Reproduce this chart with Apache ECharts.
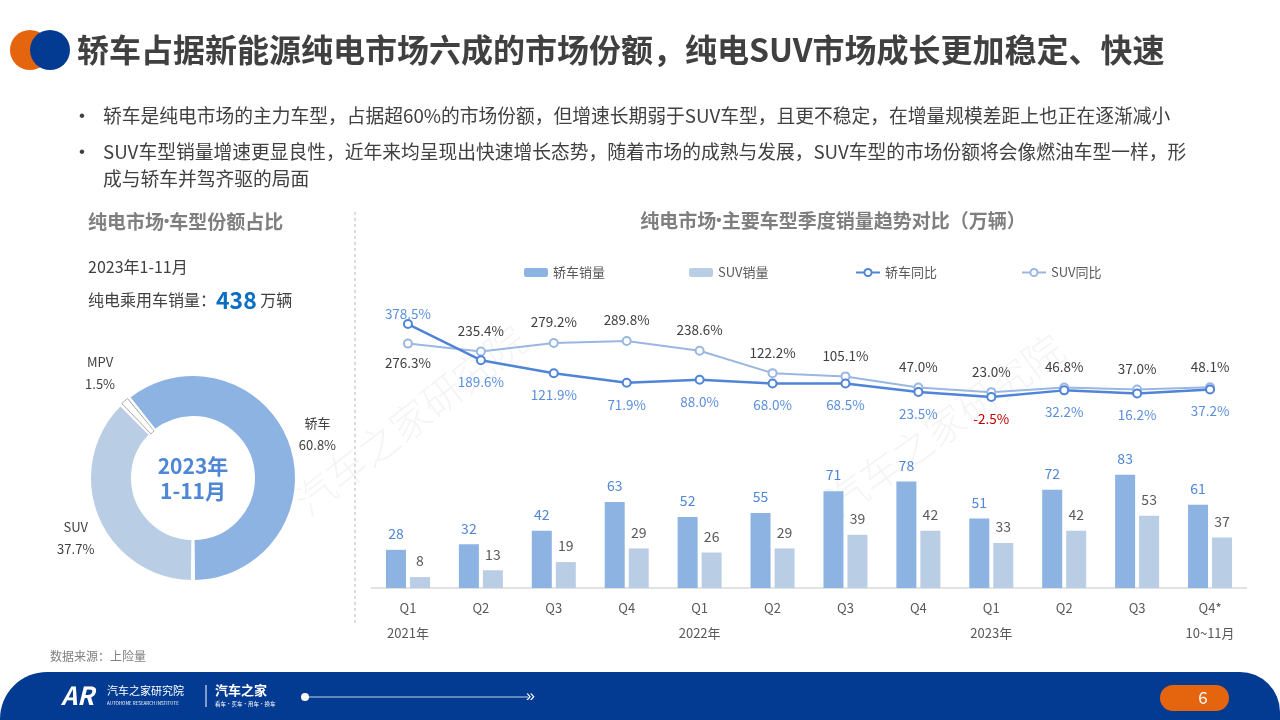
<!DOCTYPE html>
<html><head><meta charset="utf-8">
<script src="https://cdn.jsdelivr.net/npm/echarts@6/dist/echarts.min.js"></script>
<style>html,body{margin:0;padding:0;background:#fff}#c{width:1280px;height:720px}</style>
</head><body><div id="c"></div>
<script>
const quarters = ['Q1','Q2','Q3','Q4','Q1','Q2','Q3','Q4','Q1','Q2','Q3','Q4*'];
const periods = ['2021年','','','','2022年','','','','2023年','','','10~11月'];
const sedanSales = [28,32,42,63,52,55,71,78,51,72,83,61];
const suvSales = [8,13,19,29,26,29,39,42,33,42,53,37];
const sedanYoY = [378.5,189.6,121.9,71.9,88.0,68.0,68.5,23.5,-2.5,32.2,16.2,37.2];
const suvYoY = [276.3,235.4,279.2,289.8,238.6,122.2,105.1,47.0,23.0,46.8,37.0,48.1];
const shareNames = ['SUV','MPV','轿车'];
const shareValues = [37.7,1.5,60.8];
const totalSales = 438;

const FONT = '"Noto Sans CJK SC", "Noto Sans", sans-serif';
const LFONT = '"Liberation Sans", "DejaVu Sans", sans-serif';
const C_SEDAN = '#8db3e2', C_SUV = '#b9cde5', C_SEDAN_LINE = '#4f84d6', C_SUV_LINE = '#9ab7e2';

const PIE_CX = 193, PIE_CY = 478, PIE_START = -90, PIE_LABEL_R = 132;
const PIE_LABEL_NUDGE = {'SUV': [5, 10], 'MPV': [0, 0], '轿车': [0, 0]};

const chart = echarts.init(document.getElementById('c'));

const gLeft = 371.5, gRight = 33.5;

const sedanLineData = sedanYoY.map((v, i) => {
  const d = {value: v};
  if (i === 0) d.label = {position: 'top', distance: -2};
  if (v < 0) d.label = {color: '#c00000'};
  return d;
});
const suvLineData = suvYoY.map((v, i) => {
  const d = {value: v};
  if (i === 0) d.label = {position: 'bottom', distance: 8};
  return d;
});
const shareColors = {'SUV': C_SUV, 'MPV': '#ffffff', '轿车': C_SEDAN};
const pieData = shareNames.map((n, i) => ({
  name: n, value: shareValues[i],
  itemStyle: n === 'MPV' ? {color: '#fff', borderColor: '#a6a6a6', borderWidth: 1} : {color: shareColors[n], borderColor: '#fff', borderWidth: 2}
}));
// mid-angle of each slice (clockwise from 12 o'clock), from the data
const shareTotal = shareValues.reduce((a, b) => a + b, 0);
const shareMid = [];
(function () { let cum = 0; shareValues.forEach(v => { shareMid.push((90 - PIE_START) + (cum + v / 2) / shareTotal * 360); cum += v; }); })();

const bullet1 = '轿车是纯电市场的主力车型，占据超60%的市场份额，但增速长期弱于SUV车型，且更不稳定，在增量规模差距上也正在逐渐减小';
const bullet2a = 'SUV车型销量增速更显良性，近年来均呈现出快速增长态势，随着市场的成熟与发展，SUV车型的市场份额将会像燃油车型一样，形';
const bullet2b = '成与轿车并驾齐驱的局面';

const txt = (x, y, text, o) => ({type: 'text', x, y, style: Object.assign({text, font: '14px ' + FONT, fill: '#404040', textVerticalAlign: 'middle'}, o || {})});
const dotTitle = (x, y, a, b, align) => ({type: 'text', x, y, style: {
  text: '{t|' + a + '}{d|•}{t|' + b + '}', textVerticalAlign: 'middle', textAlign: align || 'left',
  rich: {t: {font: 'bold 19px ' + FONT, fill: '#7f7f7f'}, d: {font: 'bold 15px ' + LFONT, fill: '#7f7f7f'}}
}});

const option = {
  animation: false,
  textStyle: {fontFamily: FONT},
  graphic: [
    // watermarks
    {type: 'text', x: 410, y: 420, rotation: 0.66, z: -10, style: {text: '汽车之家研究院', font: '300 40px ' + FONT, fill: 'rgba(0,0,0,0.045)', textAlign: 'center', textVerticalAlign: 'middle'}},
    {type: 'text', x: 945, y: 425, rotation: 0.62, z: -10, style: {text: '汽车之家研究院', font: '300 40px ' + FONT, fill: 'rgba(0,0,0,0.045)', textAlign: 'center', textVerticalAlign: 'middle'}},
    // header logo
    {type: 'circle', shape: {cx: 30, cy: 50, r: 20}, style: {fill: '#e5650e'}},
    {type: 'circle', shape: {cx: 50, cy: 50, r: 20}, style: {fill: '#033b93'}},
    txt(77, 50, '轿车占据新能源纯电市场六成的市场份额，纯电SUV市场成长更加稳定、快速', {font: 'bold 32px ' + FONT, fill: '#404040'}),
    // bullets
    txt(79, 116, '•', {font: '17px ' + LFONT}),
    txt(103, 116, bullet1, {font: '18.75px ' + FONT}),
    txt(79, 152, '•', {font: '17px ' + LFONT}),
    txt(103, 152, bullet2a, {font: '18.75px ' + FONT}),
    txt(103, 179, bullet2b, {font: '18.75px ' + FONT}),
    // left panel
    dotTitle(88, 222, '纯电市场', '车型份额占比'),
    txt(88, 267, '2023年1-11月', {font: '16px ' + FONT}),
    {type: 'text', x: 88, y: 300, style: {
      text: '{a|纯电乘用车销量：}{b|' + totalSales + '}{a| 万辆}',
      textVerticalAlign: 'middle',
      rich: {a: {font: '16px ' + FONT, fill: '#404040'}, b: {font: 'bold 23px ' + FONT, fill: '#0a6fc2'}}
    }},
    {type: 'text', x: PIE_CX, y: PIE_CY + 1, style: {text: '2023年\n1-11月', font: 'bold 21px ' + FONT, fill: '#4f86d6', textAlign: 'center', textVerticalAlign: 'middle', lineHeight: 25}},
    // separator
    {type: 'line', shape: {x1: 355, y1: 212, x2: 355, y2: 625}, style: {stroke: '#dcdcdc', lineWidth: 2, lineDash: [3, 3]}},
    // right title
    dotTitle(833, 221, '纯电市场', '主要车型季度销量趋势对比（万辆）', 'center'),
    // source
    txt(50, 656, '数据来源：上险量', {font: '12px ' + FONT, fill: '#7f7f7f'}),
    // footer band
    {type: 'rect', shape: {x: 0, y: 672, width: 1280, height: 60, r: [47, 40, 0, 0]}, style: {fill: '#033b93'}},
    txt(61, 695, 'AR', {font: 'italic bold 25px ' + FONT, fill: '#fff'}),
    txt(107, 691, '汽车之家研究院', {font: '11px ' + FONT, fill: '#fff'}),
    txt(107, 703, 'AUTOHOME RESEARCH INSTITUTE', {font: '4.5px ' + FONT, fill: '#fff'}),
    {type: 'line', shape: {x1: 206, y1: 685, x2: 206, y2: 707}, style: {stroke: '#fff', lineWidth: 1}},
    txt(215, 690, '汽车之家', {font: 'bold 13px ' + FONT, fill: '#fff'}),
    txt(215, 704, '看车·买车·用车·换车', {font: '5.5px ' + FONT, fill: '#fff'}),
    {type: 'line', shape: {x1: 308, y1: 697, x2: 528, y2: 697}, style: {stroke: '#c9d3e6', lineWidth: 1.2}},
    {type: 'circle', shape: {cx: 305, cy: 697, r: 4}, style: {fill: '#fff'}},
    txt(526, 697, '»', {font: '16px ' + LFONT, fill: '#fff'}),
    {type: 'rect', shape: {x: 1160, y: 685, width: 69, height: 26, r: 13}, style: {fill: '#e5650e'}},
    txt(1203, 698, '6', {font: '17px ' + FONT, fill: '#fff', textAlign: 'center'})
  ],
  legend: [
    {data: ['轿车销量'], left: 519, top: 261},
    {data: ['SUV销量'], left: 684, top: 261},
    {data: ['轿车同比'], left: 850, top: 261},
    {data: ['SUV同比'], left: 1016, top: 261}
  ].map(l => Object.assign({itemWidth: 24, itemHeight: 9, itemGap: 4, textStyle: {color: '#595959', fontSize: 13, fontFamily: FONT}}, l)),
  grid: [
    {left: gLeft, right: gRight, top: 451.6, bottom: 132},
    {left: gLeft, right: gRight, top: 319.9, height: 95.8}
  ],
  xAxis: [
    {type: 'category', gridIndex: 0, data: quarters,
     axisLine: {lineStyle: {color: '#d9d9d9', width: 1.5}}, axisTick: {show: false},
     axisLabel: {color: '#595959', fontSize: 13, lineHeight: 25, margin: 8, interval: 0,
       formatter: (v, i) => periods[i] ? v + '\n' + periods[i] : v}},
    {type: 'category', gridIndex: 1, data: quarters, show: false}
  ],
  yAxis: [
    {type: 'value', gridIndex: 0, min: 0, max: 100, show: false, splitLine: {show: false}},
    {type: 'value', gridIndex: 1, min: -100, max: 400, show: false, splitLine: {show: false}}
  ],
  series: [
    {name: '轿车销量', type: 'bar', xAxisIndex: 0, yAxisIndex: 0, data: sedanSales, barWidth: 20, barGap: '20%',
     itemStyle: {color: C_SEDAN}, label: {show: true, position: 'top', distance: 9, color: '#4f86d6', fontSize: 14}},
    {name: 'SUV销量', type: 'bar', xAxisIndex: 0, yAxisIndex: 0, data: suvSales, barWidth: 20,
     itemStyle: {color: C_SUV}, label: {show: true, position: 'top', distance: 9, color: '#595959', fontSize: 14}},
    {name: 'SUV同比', type: 'line', xAxisIndex: 1, yAxisIndex: 1, data: suvLineData, z: 3,
     symbol: 'emptyCircle', symbolSize: 8, lineStyle: {color: C_SUV_LINE, width: 2}, itemStyle: {color: C_SUV_LINE, borderWidth: 2},
     label: {show: true, position: 'top', distance: 9, color: '#404040', fontSize: 13.5, formatter: p => p.value.toFixed(1) + '%'}},
    {name: '轿车同比', type: 'line', xAxisIndex: 1, yAxisIndex: 1, data: sedanLineData, z: 4,
     symbol: 'emptyCircle', symbolSize: 8, lineStyle: {color: C_SEDAN_LINE, width: 2.5}, itemStyle: {color: C_SEDAN_LINE, borderWidth: 2},
     label: {show: true, position: 'bottom', distance: 10, color: '#5b8fdc', fontSize: 13.5, formatter: p => p.value.toFixed(1) + '%'}},
    {name: '份额', type: 'pie', center: [PIE_CX, PIE_CY], radius: [61, 103], startAngle: PIE_START, padAngle: 1.2,
     avoidLabelOverlap: false, data: pieData,
     label: {show: true, position: 'outside', formatter: '{b}\n{c}%', color: '#404040', fontSize: 13, lineHeight: 22},
     labelLine: {show: false, length: 10, length2: 6}, emphasis: {disabled: true},
     labelLayout: p => {
       const name = shareNames[p.dataIndex];
       const a = shareMid[p.dataIndex] * Math.PI / 180;
       const r = PIE_LABEL_R + (name === 'MPV' ? 8 : 0);
       const nd = PIE_LABEL_NUDGE[name];
       return {x: PIE_CX + r * Math.sin(a) + nd[0], y: PIE_CY - r * Math.cos(a) + nd[1], align: 'center', verticalAlign: 'middle'};
     }}
  ]
};
chart.setOption(option);
</script></body></html>
